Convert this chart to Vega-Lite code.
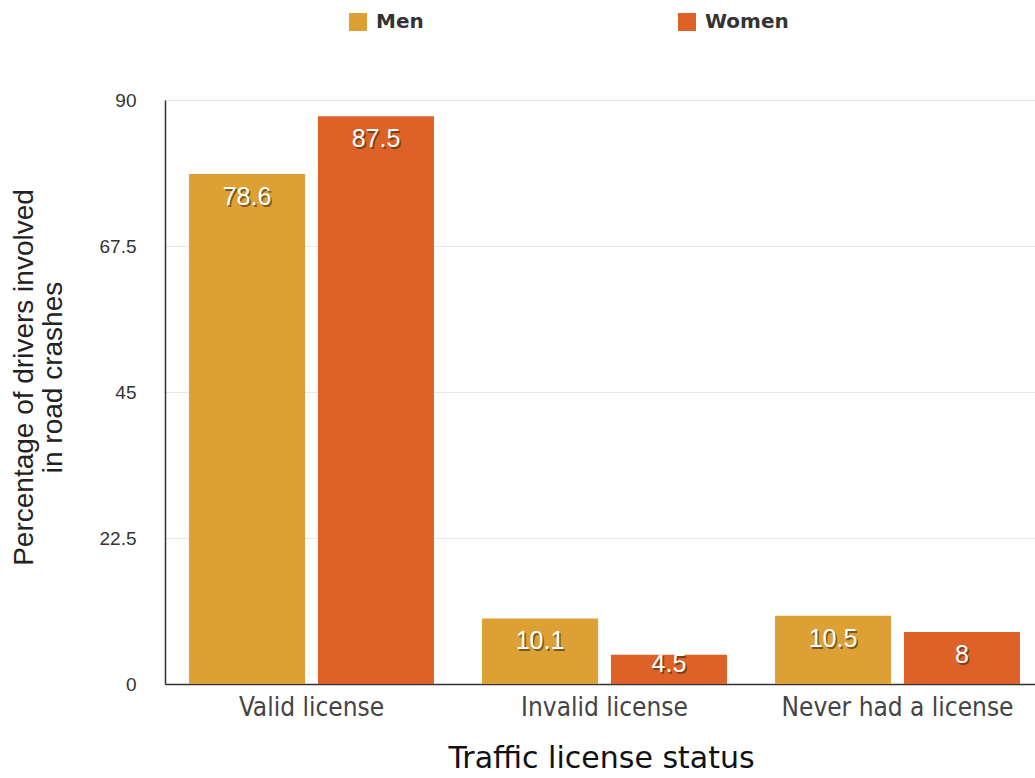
{
  "$schema": "https://vega.github.io/schema/vega-lite/v6.json",
  "width": 879,
  "height": 584,
  "autosize": {"type": "none"},
  "padding": {"left": 165, "top": 100, "right": 0, "bottom": 94},
  "background": "white",
  "data": {
    "values": [
      {"status": "Valid license", "gender": "Men", "value": 78.6},
      {"status": "Valid license", "gender": "Women", "value": 87.5},
      {"status": "Invalid license", "gender": "Men", "value": 10.1},
      {"status": "Invalid license", "gender": "Women", "value": 4.5},
      {"status": "Never had a license", "gender": "Men", "value": 10.5},
      {"status": "Never had a license", "gender": "Women", "value": 8}
    ]
  },
  "encoding": {
    "x": {
      "field": "status",
      "type": "nominal",
      "sort": ["Valid license", "Invalid license", "Never had a license"],
      "scale": {"paddingInner": 0.164, "paddingOuter": 0.082},
      "axis": {
        "title": "Traffic license status",
        "labelAngle": 0,
        "labelFont": "DejaVu Sans Condensed",
        "labelFontSize": 26,
        "labelLimit": 400,
        "labelColor": "#444444",
        "labelPadding": 10,
        "ticks": false,
        "domainColor": "#333333",
        "domainWidth": 1.5,
        "titleFont": "DejaVu Sans",
        "titleFontSize": 30,
        "titleFontWeight": "normal",
        "titleColor": "#111111",
        "titlePadding": 23,
        "titleX": 436,
        "titleAlign": "center"
      }
    },
    "xOffset": {
      "field": "gender",
      "type": "nominal",
      "sort": ["Men", "Women"],
      "scale": {"paddingInner": 0.1}
    },
    "y": {
      "field": "value",
      "type": "quantitative",
      "scale": {"domain": [0, 90], "nice": false},
      "axis": {
        "values": [0, 22.5, 45, 67.5, 90],
        "format": ".1~f",
        "title": ["Percentage of drivers involved", "in road crashes"],
        "labelFont": "Liberation Sans",
        "labelFontSize": 19,
        "labelColor": "#333333",
        "labelPadding": 29,
        "ticks": false,
        "domainColor": "#333333",
        "domainWidth": 1.5,
        "gridColor": "#e8e8e8",
        "titleFont": "Liberation Sans",
        "titleFontSize": 28,
        "titleFontWeight": "normal",
        "titleColor": "#222222",
        "titleLineHeight": 29,
        "titleAngle": -90,
        "titleX": -133,
        "titleY": 277,
        "titleAlign": "center",
        "titleBaseline": "alphabetic"
      }
    },
    "color": {
      "field": "gender",
      "type": "nominal",
      "sort": ["Men", "Women"],
      "scale": {"domain": ["Men", "Women"], "range": ["#DDA035", "#DE6227"]},
      "legend": {
        "title": null,
        "orient": "none",
        "legendX": 183,
        "legendY": -88,
        "direction": "horizontal",
        "symbolType": "square",
        "symbolSize": 324,
        "symbolStrokeWidth": 0,
        "symbolOpacity": 1,
        "labelFont": "DejaVu Sans",
        "labelFontWeight": "bold",
        "labelFontSize": 20,
        "labelColor": "#333333",
        "labelOffset": 8,
        "columnPadding": 253
      }
    }
  },
  "layer": [
    {"mark": {"type": "bar", "opacity": 1}},
    {
      "transform": [{"filter": "datum.value >= 8"}],
      "mark": {"type": "text", "baseline": "middle", "dy": 25, "dx": 1.5, "font": "Liberation Sans", "fontSize": 25, "color": "#3a2a10", "opacity": 0.6},
      "encoding": {"text": {"field": "value", "type": "quantitative"}, "color": {"value": "#3a2a10"}}
    },
    {
      "transform": [{"filter": "datum.value >= 8"}],
      "mark": {"type": "text", "baseline": "middle", "dy": 23, "font": "Liberation Sans", "fontSize": 25, "color": "white"},
      "encoding": {"text": {"field": "value", "type": "quantitative"}, "color": {"value": "white"}}
    },
    {
      "transform": [{"filter": "datum.value < 8"}],
      "mark": {"type": "text", "baseline": "middle", "dy": 11, "dx": 1.5, "font": "Liberation Sans", "fontSize": 25, "color": "#3a2a10", "opacity": 0.6},
      "encoding": {"text": {"field": "value", "type": "quantitative"}, "color": {"value": "#3a2a10"}}
    },
    {
      "transform": [{"filter": "datum.value < 8"}],
      "mark": {"type": "text", "baseline": "middle", "dy": 9, "font": "Liberation Sans", "fontSize": 25, "color": "white"},
      "encoding": {"text": {"field": "value", "type": "quantitative"}, "color": {"value": "white"}}
    }
  ],
  "config": {"view": {"stroke": null}}
}
